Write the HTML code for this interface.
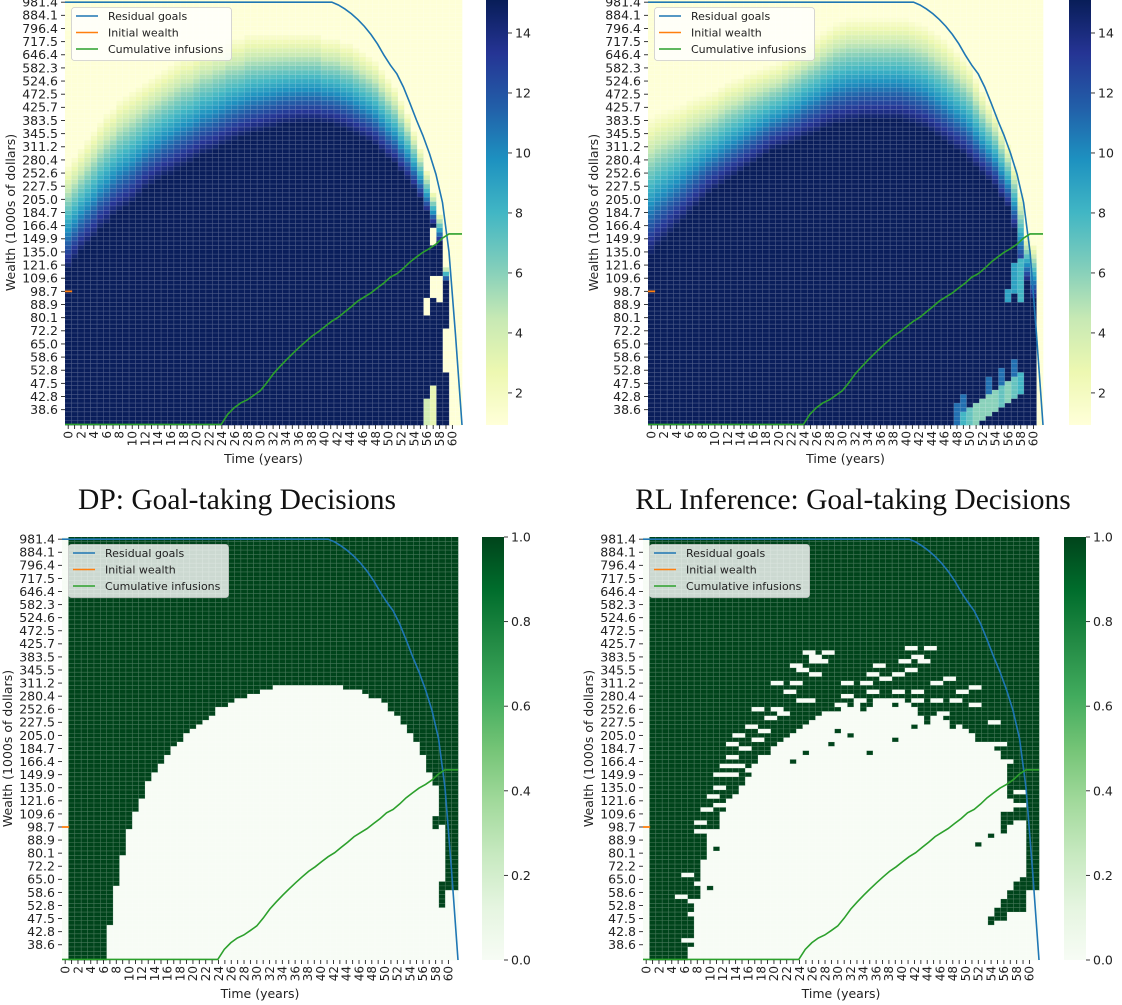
<!DOCTYPE html>
<html><head><meta charset="utf-8"><style>
html,body{margin:0;padding:0;background:#fff;}
svg{display:block;}
text{font-family:"DejaVu Sans","Liberation Sans",sans-serif;fill:#222;}
.ttl{font-family:"Liberation Serif","DejaVu Serif",serif;font-size:29.5px;fill:#111;}
</style></head><body>
<svg id="fig" xmlns="http://www.w3.org/2000/svg" width="1122" height="1005" viewBox="0 0 1122 1005">
<text class="ttl" x="237" y="509" text-anchor="middle">DP: Goal-taking Decisions</text>
<text class="ttl" x="853" y="509" text-anchor="middle">RL Inference: Goal-taking Decisions</text>
</svg>
<script>
const NS='http://www.w3.org/2000/svg';
const svg=document.getElementById('fig');
const NCOLS=62, NROWS=97, RSTEP=0.0348, WTOP=981.4;
const xTickLabels=[0,2,4,6,8,10,12,14,16,18,20,22,24,26,28,30,32,34,36,38,40,42,44,46,48,50,52,54,56,58,60];
const wealthLabels=[981.4,884.1,796.4,717.5,646.4,582.3,524.6,472.5,425.7,383.5,345.5,311.2,280.4,252.6,227.5,205.0,184.7,166.4,149.9,135.0,121.6,109.6,98.7,88.9,80.1,72.2,65.0,58.6,52.8,47.5,42.8,38.6];
const residualGoals=[981.4,981.4,981.4,981.4,981.4,981.4,981.4,981.4,981.4,981.4,981.4,981.4,981.4,981.4,981.4,981.4,981.4,981.4,981.4,981.4,981.4,981.4,981.4,981.4,981.4,981.4,981.4,981.4,981.4,981.4,981.4,981.4,981.4,981.4,981.4,981.4,981.4,981.4,981.4,981.4,981.4,981.4,960,930,895,855,810,760,705,645,595,555,500,440,385,340,295,250,200,135,70,33];
const cumInfusions=[0,0,0,0,0,0,0,0,0,0,0,0,0,0,0,0,0,0,0,0,0,0,0,0,0,37,39,40.5,41.5,43,44.6,47.5,51,54,57,60,63,66,69,71.5,74.5,77.5,80,83.5,87,91,94,97,101,105,110,113,118,124,129,134,138,143,150,155,155,155];
const initialWealth=98.7;
const dpValDarkRow=[61,59,57,55.5,54,52,51,49,48,47,46,44.5,43,42,41,40,39.5,38.5,37.7,36.8,36,35,34.5,34,33,32.4,31.7,31,30.6,30,29.7,29.2,28.8,28.3,28,27.9,27.6,27.6,27.6,27.6,27.9,28,28.5,29,29.7,30.4,31.3,32,33,34.5,36,37,39,40.6,42.7,45,48,51,55,64,97,97];
const dpValPaleRow=[37,35,33,31,29,27,25,24,22,21,20,19,18,17,16,15,14,13,12,12,11,10,10,9,9,8,8,8,7,7,7,7,7,7,7,7,7,7,7,7,8,8,8,9,9,10,11,12,13,15,17,19,22,25,29,33,38,43,48,60,97,97];
const dpValPatches=[[56,68,71,1],[56,91,96,4],[57,52,55,1],[57,63,67,1],[57,88,96,3],[58,63,68,1],[59,75,84,1]];
const rlValDarkRow=[58,56,54.5,53,51.5,50,48.5,47,45.5,44,43,42,41,40,39,38,37,36,35,34,33.5,33,32.5,32,31,30.5,30,29,28.5,28,28,27.5,27.5,27,27,27,27,27,27,27,27.5,28,28.5,29,30,31,32,33,34,35,36.5,38,39.5,41,42.5,45,47,52,61,64,68,97];
const rlValPaleRow=[26,25,24.5,24,23.5,23,22,21.5,21,20.5,20,19,18,17.5,17,16,15.5,15,14.5,14,13.5,12.5,11.5,10.5,9.5,8.5,7.5,6.5,5.5,4.5,4,3.5,3.5,3.5,3.5,3.5,3.5,3.5,3.5,3.5,3.5,4,4.5,5,6,7,8,9.5,11,12.5,14,17,20,22.5,25,28.5,32,37,43,53,55,97];
const rlValPatches=[[48,92,96,11],[49,90,93,11],[49,94,96,8],[50,93,96,7],[51,92,96,6],[52,91,95,6],[53,90,94,6],[54,89,93,6],[55,88,92,7],[56,87,91,6],[57,86,90,7],[58,85,89,8],[56,66,68,9],[57,60,66,9],[58,59,68,8],[53,86,89,11],[55,84,87,11],[57,82,85,11]];
const dpGoalWhiteTopW=[99999,0,0,0,0,0,0,44.8,61.5,79.5,96.3,111,125,140,152,163,175,187,197,207,216,226,234,243,253,259,267,272,278,287,290,294,299,301,306,309,309,309,309,309,309,309,306,304,299,296,292,287,280,272,265,251,241,226,209,194,175,152,136,102,60,60];
const dpGoalPatches=[[58,108,97,1],[57,92,90,1],[59,63,52,1]];
const rlGoalWhiteRow=[0,97,97,97,97,97,97,95,83,73,67,67,63,60,59,57,55,52,50,50,48,47,46,45,44,43,42,41,40,40,40,39,39,38,40,39,37,37,37,39,38,38,39,41,42,41,41,42,44,43,44,45,47,47,47,49,52,60,65,65,81,81];
const rlGoalPatches=[[59,78,85,1],[58,79,85,1],[57,81,85,1],[56,83,87,1],[55,85,87,1],[54,87,88,1],[56,63,67,1],[57,63,65,1]];
const rlGoalWhiteDashes=[[25,26],[26,27],[28,26],[23,29],[26,28],[27,28],[24,30],[26,31],[20,33],[23,33],[22,35],[24,37],[25,37],[17,39],[20,39],[19,41],[21,40],[16,43],[18,44],[14,45],[17,46],[13,47],[15,48],[13,50],[14,52],[16,53],[12,52],[11,54],[13,54],[11,57],[10,59],[11,61],[9,62],[8,65],[8,67],[41,25],[42,27],[44,25],[40,28],[43,28],[36,29],[39,31],[41,30],[35,31],[37,32],[34,33],[31,33],[35,35],[39,35],[42,35],[45,33],[47,32],[49,35],[51,34],[31,36],[33,37],[30,38],[39,37],[42,37],[45,37],[48,37],[51,38],[28,41],[33,40],[36,39],[46,40],[54,42],[55,47],[56,51],[58,58],[58,61],[6,77],[5,82],[7,83],[8,79],[7,86],[8,87],[6,92],[7,94],[9,76],[11,80]];
const rlGoalDarkDashes=[[30,44],[32,45],[35,49],[39,46],[29,47],[25,49],[23,51],[52,70],[54,68],[44,42],[42,43],[9,73],[8,76],[10,80],[11,71]];

const YLGNBU=['#ffffd9','#edf8b1','#c7e9b4','#7fcdbb','#41b6c4','#1d91c0','#225ea8','#253494','#081d58'];
const GREENS=['#f7fcf5','#e5f5e0','#c7e9c0','#a1d99b','#74c476','#41ab5d','#238b45','#006d2c','#00441b'];
function hex(c){return [parseInt(c.slice(1,3),16),parseInt(c.slice(3,5),16),parseInt(c.slice(5,7),16)];}
function cmap(stops,f){f=Math.max(0,Math.min(1,f));const p=f*(stops.length-1);const i=Math.min(stops.length-2,Math.floor(p));const u=p-i;const a=hex(stops[i]),b=hex(stops[i+1]);return 'rgb('+a.map((v,k)=>Math.round(v+(b[k]-v)*u)).join(',')+')';}
function mk(tag,attrs,parent){const e=document.createElementNS(NS,tag);for(const k in attrs)e.setAttribute(k,attrs[k]);(parent||svg).appendChild(e);return e;}
function wealthAt(r){return WTOP*Math.exp(-RSTEP*r);}
function rowOf(w){return w<=0?Infinity:Math.log(WTOP/w)/RSTEP;}

function valueFn(dark,pale,patches){return function(t,r){
  for(const p of patches){if(p[0]===t&&r>=p[1]&&r<=p[2])return p[3];}
  if(r>=dark[t])return 15; if(r<=pale[t])return 1;
  return 1+14*(r-pale[t])/(dark[t]-pale[t]);};}
const dpValFn=valueFn(dpValDarkRow,dpValPaleRow,dpValPatches);
const rlValFn=valueFn(rlValDarkRow,rlValPaleRow,rlValPatches);
function dpGoalFn(t,r){const w=wealthAt(r);
  for(const p of dpGoalPatches){if(p[0]===t&&w<=p[1]&&w>=p[2])return p[3];}
  return w>dpGoalWhiteTopW[t]?1:0;}
function rlGoalFn(t,r){
  for(const p of rlGoalPatches){if(p[0]===t&&r>=p[1]&&r<=p[2])return p[3];}
  for(const d of rlGoalWhiteDashes){if((d[0]===t||d[0]+1===t)&&d[1]===r)return 0;}
  for(const d of rlGoalDarkDashes){if(d[0]===t&&d[1]===r)return 1;}
  return r<rlGoalWhiteRow[t]?1:0;}

function panel(cfg){
  const {left,top,W,H,fn,stops,vmin,vmax,cbx,cbTicks,cbFmt,id}=cfg;
  const g=mk('g',{});
  
  
  const cw=W/NCOLS, rh=H/NROWS;
  for(let t=0;t<NCOLS;t++){
    let start=0, prev=null;
    for(let r=0;r<=NROWS;r++){
      const col=r<NROWS?cmap(stops,(fn(t,r)-vmin)/(vmax-vmin)):null;
      if(r===NROWS||col!==prev){
        if(prev!==null){
          const c=mk('rect',{x:(left+t*cw).toFixed(2),y:(top+start*rh).toFixed(2),width:(cw+0.3).toFixed(2),height:((r-start)*rh+0.3).toFixed(2),fill:prev},g);
          
          
        }
        start=r; prev=col;
      }
    }
  }
  const grid=mk('g',{stroke:'#ffffff','stroke-opacity':0.28,'stroke-width':0.6},g);
  
  
  let d='';
  for(let t=1;t<NCOLS;t++){const x=(left+t*cw).toFixed(2);d+='M'+x+' '+top+'V'+(top+H);}
  for(let r=1;r<NROWS;r++){const y=(top+r*rh).toFixed(2);d+='M'+left+' '+y+'H'+(left+W);}
  mk('path',{d:d,fill:'none'},grid);
  const lx=t=>left+t*W/(NCOLS-1);
  const ly=w=>Math.min(top+H,top+(rowOf(w)+0.5)*rh);
  const rg=mk('polyline',{points:residualGoals.map((w,t)=>lx(t).toFixed(2)+','+ly(w).toFixed(2)).join(' '),fill:'none',stroke:'#1f77b4','stroke-width':1.6});
  
  
  const ci=mk('polyline',{points:cumInfusions.map((w,t)=>lx(t).toFixed(2)+','+(ly(w)-0.6).toFixed(2)).join(' '),fill:'none',stroke:'#2ca02c','stroke-width':1.6});
  
  
  const iw=mk('line',{x1:left,x2:lx(1.1),y1:ly(initialWealth),y2:ly(initialWealth),stroke:'#ff7f0e','stroke-width':1.8});
  
  
  wealthLabels.forEach((v,i)=>{
    const y=top+(i*3+0.5)*rh;
    const tk=mk('line',{x1:left-4,x2:left,y1:y,y2:y,stroke:'#222','stroke-width':0.9});
    
    
    const tx=mk('text',{x:left-7,y:y+4.4,'text-anchor':'end','font-size':12.5});
    tx.textContent=v.toFixed(1);
    
    
  });
  for(let t=0;t<=60;t++){
    const x=left+(t+0.5)*cw;
    const tk=mk('line',{x1:x,x2:x,y1:top+H,y2:top+H+4,stroke:'#222','stroke-width':0.9});
    
    
  }
  xTickLabels.forEach(v=>{
    const x=left+(v+0.5)*cw+4.3, y=top+H+6;
    const tx=mk('text',{x:x,y:y,'text-anchor':'end','font-size':12,transform:'rotate(-90 '+x+' '+y+')'});
    tx.textContent=String(v);
    
    
  });
  const xl=mk('text',{x:left+W/2,y:top+H+38,'text-anchor':'middle','font-size':12.5});
  xl.textContent='Time (years)';
  
  
  const yx=left-50, yy=top+H/2;
  const yl=mk('text',{x:yx,y:yy,'text-anchor':'middle','font-size':12.5,transform:'rotate(-90 '+yx+' '+yy+')'});
  yl.textContent='Wealth (1000s of dollars)';
  
  
  const lg=mk('g',{});
  
  
  mk('rect',{x:left+6.5,y:top+7.5,width:160,height:53,rx:3,fill:'#ffffff','fill-opacity':0.8,stroke:'#cccccc','stroke-width':0.8},lg);
  [['Residual goals','#1f77b4'],['Initial wealth','#ff7f0e'],['Cumulative infusions','#2ca02c']].forEach((e,i)=>{
    const yy2=top+16+i*16.5;
    const ln=mk('line',{x1:left+11,x2:left+33,y1:yy2,y2:yy2,stroke:e[1],'stroke-width':1.6},lg);
    
    
    const tx=mk('text',{x:left+43,y:yy2+4,'font-size':11},lg);
    tx.textContent=e[0];
    
    
  });
  const gid='grad-'+id;
  const defs=mk('defs',{});
  const lgr=mk('linearGradient',{id:gid,x1:0,y1:1,x2:0,y2:0},defs);
  stops.forEach((c,i)=>mk('stop',{offset:(i/(stops.length-1)).toFixed(3),'stop-color':c},lgr));
  const cb=mk('rect',{x:cbx,y:top,width:22,height:H,fill:'url(#'+gid+')'});
  
  
  cbTicks.forEach(v=>{
    const y=top+H-(v-vmin)/(vmax-vmin)*H;
    const tk=mk('line',{x1:cbx+22,x2:cbx+26,y1:y,y2:y,stroke:'#222','stroke-width':0.9});
    
    
    const tx=mk('text',{x:cbx+29,y:y+4.5,'font-size':12.5});
    tx.textContent=cbFmt(v);
    
    
  });
}
const valTicks=[2,4,6,8,10,12,14];
const goalTicks=[0,0.2,0.4,0.6,0.8,1.0];
panel({id:'dp-value',left:65,top:0,W:397,H:425,fn:dpValFn,stops:YLGNBU,vmin:0.93,vmax:15.1,cbx:486,cbTicks:valTicks,cbFmt:v=>String(v)});
panel({id:'rl-value',left:648,top:0,W:395,H:425,fn:rlValFn,stops:YLGNBU,vmin:0.93,vmax:15.1,cbx:1069,cbTicks:valTicks,cbFmt:v=>String(v)});
panel({id:'dp-goal',left:62,top:537,W:396,H:423,fn:dpGoalFn,stops:GREENS,vmin:0,vmax:1,cbx:482,cbTicks:goalTicks,cbFmt:v=>v.toFixed(1)});
panel({id:'rl-goal',left:643,top:537,W:396,H:423,fn:rlGoalFn,stops:GREENS,vmin:0,vmax:1,cbx:1064,cbTicks:goalTicks,cbFmt:v=>v.toFixed(1)});
</script>
</body></html>
